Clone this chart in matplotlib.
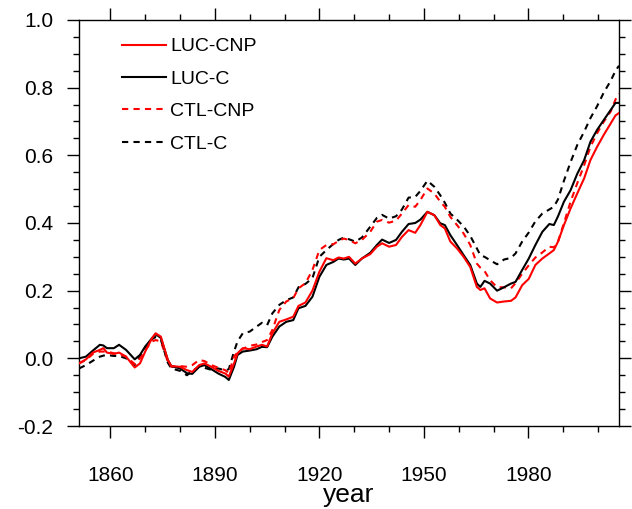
import numpy as np
import matplotlib
matplotlib.use("Agg")
import matplotlib.pyplot as plt
from matplotlib.ticker import MultipleLocator, FormatStrFormatter

plt.rcParams['font.family'] = ['Liberation Sans', 'DejaVu Sans']
plt.rcParams['axes.unicode_minus'] = False

years = [1851, 1853, 1855, 1857, 1858, 1859, 1861, 1862.5, 1864.5, 1867, 1868.5,
         1870, 1872, 1873, 1874.5, 1876.5, 1877.5, 1880, 1882, 1883.5, 1885.5,
         1887, 1889, 1891, 1893, 1894, 1895.5, 1896.5, 1898, 1900, 1902, 1903.5,
         1905, 1906.5, 1908.5, 1910.5, 1912.5, 1914, 1916, 1918, 1920, 1922,
         1924, 1925.5, 1927, 1928.5, 1930.3, 1932.2, 1934.6, 1936.5, 1938, 1940,
         1942, 1943.7, 1945.6, 1947.5, 1949, 1951, 1953, 1954.7, 1956, 1957.6,
         1959.5, 1961.4, 1963.3, 1965.2, 1966.2, 1967.4, 1969, 1971, 1973, 1975,
         1976.3, 1978.2, 1980.1, 1982, 1984, 1986, 1987.3, 1988.5, 1990.2,
         1992.1, 1994, 1996, 1997.8, 1999.7, 2001.6, 2003.6, 2005, 2006]

luc_cnp = [-0.015, -0.003, 0.017, 0.025, 0.030, 0.017, 0.013, 0.017, 0.005, -0.027, -0.015,
           0.020, 0.060, 0.074, 0.064, -0.005, -0.023, -0.025, -0.035, -0.040, -0.020,
           -0.015, -0.025, -0.037, -0.045, -0.054, -0.015, 0.015, 0.030, 0.027, 0.035, 0.040,
           0.035, 0.074, 0.108, 0.115, 0.123, 0.155, 0.165, 0.200, 0.256, 0.296,
           0.290, 0.298, 0.295, 0.300, 0.280, 0.295, 0.308, 0.330, 0.340, 0.330,
           0.335, 0.359, 0.379, 0.371, 0.394, 0.433, 0.423, 0.394, 0.384, 0.345,
           0.325, 0.300, 0.270, 0.211, 0.202, 0.207, 0.177, 0.165, 0.168, 0.170,
           0.180, 0.216, 0.235, 0.276, 0.295, 0.310, 0.320, 0.345, 0.394,
           0.443, 0.487, 0.532, 0.586, 0.625, 0.660, 0.694, 0.718, 0.725]

luc_c = [0.000, 0.005, 0.023, 0.040, 0.038, 0.030, 0.030, 0.040, 0.025, -0.003, 0.010,
         0.035, 0.060, 0.072, 0.060, -0.005, -0.023, -0.030, -0.044, -0.046, -0.025,
         -0.020, -0.032, -0.045, -0.055, -0.064, -0.025, 0.010, 0.020, 0.023, 0.027, 0.034,
         0.033, 0.064, 0.094, 0.108, 0.113, 0.148, 0.155, 0.182, 0.241, 0.276,
         0.285, 0.295, 0.292, 0.295, 0.276, 0.295, 0.312, 0.335, 0.351, 0.341,
         0.350, 0.374, 0.397, 0.400, 0.410, 0.433, 0.423, 0.399, 0.394, 0.364,
         0.335, 0.305, 0.276, 0.221, 0.211, 0.229, 0.221, 0.200, 0.210, 0.221,
         0.226, 0.261, 0.295, 0.335, 0.374, 0.397, 0.394, 0.420, 0.463,
         0.497, 0.545, 0.586, 0.640, 0.675, 0.704, 0.734, 0.755, 0.755]

ctl_cnp = [-0.015, -0.005, 0.013, 0.020, 0.020, 0.020, 0.015, 0.013, 0.005, -0.017, 0.000,
           0.025, 0.050, 0.054, 0.050, -0.010, -0.025, -0.023, -0.025, -0.020, -0.005,
           -0.008, -0.020, -0.028, -0.035, -0.044, 0.005, 0.018, 0.028, 0.037, 0.041, 0.048,
           0.054, 0.084, 0.143, 0.168, 0.178, 0.207, 0.222, 0.261, 0.320, 0.335,
           0.337, 0.347, 0.354, 0.350, 0.340, 0.350, 0.374, 0.404, 0.409, 0.401,
           0.407, 0.428, 0.453, 0.448, 0.468, 0.502, 0.487, 0.463, 0.448, 0.418,
           0.394, 0.369, 0.335, 0.280, 0.268, 0.258, 0.231, 0.210, 0.210, 0.207,
           0.222, 0.250, 0.275, 0.298, 0.313, 0.330, 0.328, 0.345, 0.400,
           0.463, 0.517, 0.571, 0.625, 0.665, 0.699, 0.729, 0.765, 0.783]

ctl_c = [-0.030, -0.020, -0.007, 0.005, 0.008, 0.010, 0.007, 0.007, 0.000, -0.020, 0.005,
         0.030, 0.057, 0.063, 0.055, -0.013, -0.030, -0.037, -0.050, -0.037, -0.025,
         -0.028, -0.034, -0.030, -0.036, -0.032, 0.020, 0.050, 0.074, 0.079, 0.094, 0.105,
         0.098, 0.133, 0.158, 0.172, 0.180, 0.210, 0.220, 0.237, 0.300, 0.320,
         0.338, 0.350, 0.357, 0.352, 0.345, 0.357, 0.389, 0.415, 0.424, 0.413,
         0.420, 0.440, 0.475, 0.477, 0.495, 0.525, 0.507, 0.482, 0.460, 0.428,
         0.410, 0.390, 0.362, 0.325, 0.305, 0.300, 0.290, 0.278, 0.292, 0.297,
         0.310, 0.345, 0.372, 0.405, 0.428, 0.440, 0.448, 0.470, 0.525,
         0.580, 0.630, 0.670, 0.710, 0.745, 0.785, 0.820, 0.850, 0.865]

fig = plt.figure(figsize=(6.32, 5.09), dpi=100)
ax = fig.add_axes([79/632, 1-426/509, 540/632, 406/509])

lw = 1.5
ax.plot(years, ctl_c, color='black', lw=lw, ls=(0, (3, 2.5)), label='CTL-C', zorder=2)
ax.plot(years, ctl_cnp, color='red', lw=lw, ls=(0, (3, 2.5)), label='CTL-CNP', zorder=3)
ax.plot(years, luc_c, color='black', lw=lw, label='LUC-C', zorder=4)
ax.plot(years, luc_cnp, color='red', lw=lw, label='LUC-CNP', zorder=5)

ax.set_xlim(1851, 2006)
ax.set_ylim(-0.2, 1.0)
ax.xaxis.set_major_locator(MultipleLocator(30))
ax.xaxis.set_minor_locator(MultipleLocator(10))
ax.yaxis.set_major_locator(MultipleLocator(0.2))
ax.yaxis.set_minor_locator(MultipleLocator(0.05))
ax.yaxis.set_major_formatter(FormatStrFormatter('%.1f'))

ax.tick_params(which='both', direction='out', top=True, right=True,
               labeltop=False, labelright=False, width=1.0)
ax.tick_params(which='major', length=8.6, labelsize=15)
ax.tick_params(which='minor', length=4.5)
ax.tick_params(axis='x', which='major', pad=20)
ax.tick_params(axis='y', which='major', pad=10)
for s in ax.spines.values():
    s.set_linewidth(1.0)

ax.set_xlabel('year', fontsize=19, va='baseline')
ax.xaxis.set_label_coords(0.5, -(502 - 426) / 406)

h, l = ax.get_legend_handles_labels()
order = [3, 2, 1, 0]
ax.legend([h[i] for i in order], [l[i] for i in order], loc='upper left',
          bbox_to_anchor=(0.0796, 0.956), frameon=False, fontsize=14,
          handlelength=2.26, handletextpad=0.21, labelspacing=0.76, borderpad=0,
          borderaxespad=0)

fig.savefig('out.png', dpi=100)
